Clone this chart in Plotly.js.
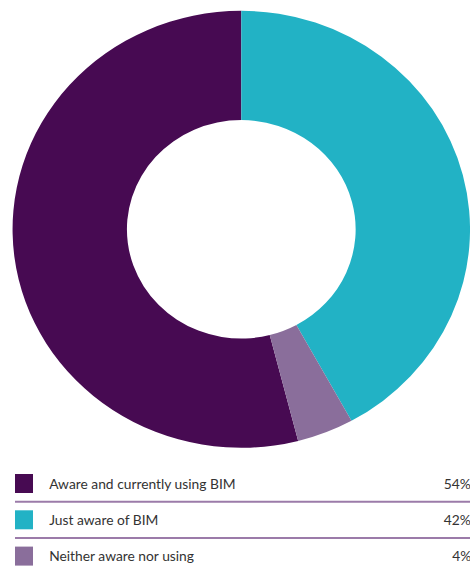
<!DOCTYPE html>
<html><head><meta charset="utf-8">
<script src="https://cdn.plot.ly/plotly-3.0.1.min.js"></script>
<style>
html,body{margin:0;padding:0;background:#fff;overflow:hidden}
#wrap{width:470px;height:568px;overflow:hidden;position:relative}
#chart{width:449px;height:568px;transform:scaleX(1.0468);transform-origin:0 0}
</style>
</head><body><div id="wrap"><div id="chart"></div></div>
<script>
const categories = ["Aware and currently using BIM", "Just aware of BIM", "Neither aware nor using"];
const values = [54, 42, 4];
const colors = ["#470a52", "#22b2c5", "#8a6e9b"];

const W = 449, H = 568;
// legend layout in reference pixel units (x axis spans 0..470, y axis 0..568 top-down)
const rowY0 = 483.5, rowH = 36.3;
const shapes = [];
const annotations = [];
const font = {family: 'Lato, sans-serif', size: 13.2, color: '#333333'};
categories.forEach((c, i) => {
  const yc = rowY0 + i * rowH;
  shapes.push({type: 'rect', xref: 'x', yref: 'y', x0: 15, x1: 33, y0: yc - 9.5, y1: yc + 9.5,
    fillcolor: colors[i], line: {width: 0}});
  annotations.push({xref: 'x', yref: 'y', x: 47, y: yc, text: c, showarrow: false,
    xanchor: 'left', yanchor: 'middle', font: font});
  annotations.push({xref: 'paper', yref: 'y', x: 473 / 470, y: yc, text: values[i] + '%', showarrow: false,
    xanchor: 'right', yanchor: 'middle', font: font});
  if (i < categories.length - 1) {
    const yl = yc + rowH / 2;
    shapes.push({type: 'line', xref: 'x', yref: 'y', x0: 15, x1: 480, y0: yl, y1: yl,
      line: {color: '#9b7ba9', width: 2}});
  }
});

// first slice (Aware) ends at 12 o'clock so that "Just aware" starts there, clockwise
const total = values.reduce((a, b) => a + b, 0);
const pie = {
  type: 'pie',
  labels: categories,
  values: values,
  marker: {colors: colors, line: {width: 0}},
  hole: 0.5,
  sort: false,
  direction: 'clockwise',
  rotation: 360 * (1 - values[0] / total),
  textinfo: 'none',
  hoverinfo: 'label+percent',
  showlegend: false,
  domain: {x: [12 / W, 1], y: [(H - 447.8) / H, (H - 10.8) / H]}
};

const layout = {
  width: W, height: H,
  margin: {l: 0, r: 0, t: 0, b: 0},
  paper_bgcolor: '#ffffff', plot_bgcolor: 'rgba(0,0,0,0)',
  showlegend: false,
  xaxis: {range: [0, 470], visible: false, fixedrange: true, domain: [0, 1]},
  yaxis: {range: [568, 0], visible: false, fixedrange: true, domain: [0, 1]},
  shapes: shapes,
  annotations: annotations
};

Plotly.newPlot('chart', [pie], layout, {displayModeBar: false, staticPlot: true});
</script>
</body></html>
